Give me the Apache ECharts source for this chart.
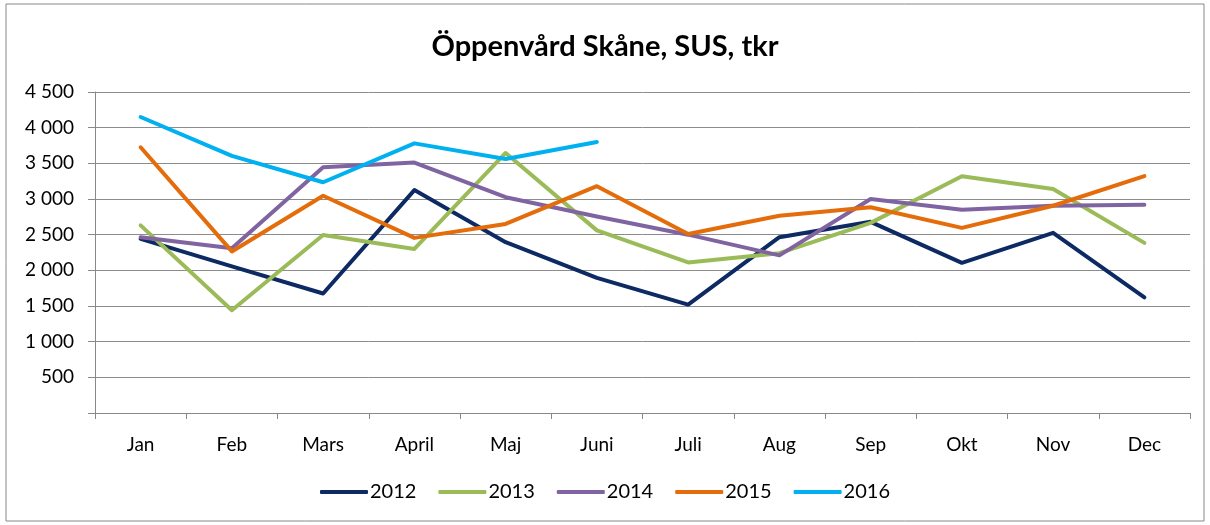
<!DOCTYPE html>
<html>
<head>
<meta charset="utf-8">
<script src="https://cdn.jsdelivr.net/npm/echarts@6/dist/echarts.min.js"></script>
<style>
  html, body { margin: 0; padding: 0; background: #fff; }
  #main { width: 1210px; height: 525px; }
</style>
</head>
<body>
<div id="main"></div>
<script>
// Öppenvård Skåne, SUS, tkr

var months = ["Jan", "Feb", "Mars", "April", "Maj", "Juni", "Juli", "Aug", "Sep", "Okt", "Nov", "Dec"];

var y2012 = [2440, 2055, 1675, 3125, 2395, 1895, 1520, 2465, 2680, 2105, 2525, 1620];
var y2013 = [2630, 1440, 2495, 2300, 3645, 2560, 2110, 2240, 2665, 3320, 3140, 2385];
var y2014 = [2465, 2310, 3445, 3510, 3025, 2755, 2500, 2210, 3000, 2850, 2905, 2920];
var y2015 = [3725, 2265, 3045, 2455, 2650, 3180, 2510, 2765, 2885, 2595, 2905, 3320];
var y2016 = [4150, 3605, 3235, 3780, 3560, 3800];

var seriesNames = ["2012", "2013", "2014", "2015", "2016"];
var seriesColors = ["#0D2A63", "#9BBB59", "#8064A2", "#E46C0A", "#00B0F0"];

var chartDom = document.getElementById("main");
var myChart = echarts.init(chartDom);

var font = "Lato, 'Open Sans', sans-serif";

function mkSeries(name, data, color) {
  return {
    name: name,
    type: "line",
    data: data,
    symbol: "none",
    smooth: false,
    lineStyle: { width: 4, color: color, cap: "round", join: "round" },
    itemStyle: { color: color },
  };
}

var allData = [y2012, y2013, y2014, y2015, y2016];

var option = {
  animation: false,
  textStyle: { fontFamily: font },
  title: {
    text: "Öppenvård Skåne, SUS, tkr",
    left: "center",
    top: 27,
    textStyle: { fontFamily: font, fontSize: 29, fontWeight: "bold", color: "#000" },
  },
  graphic: [
    {
      type: "rect",
      shape: { x: 6, y: 4, width: 1198, height: 517 },
      style: { fill: "none", stroke: "#888", lineWidth: 1 },
      silent: true,
    },
  ],
  legend: {
    bottom: 18,
    left: "center",
    itemWidth: 48,
    itemHeight: 4,
    itemGap: 22,
    icon: "roundRect",
    textStyle: { fontFamily: font, fontSize: 20, color: "#000", padding: [0, 0, 0, -3] },
    data: seriesNames,
  },
  grid: { left: 95, right: 20, top: 92, bottom: 112, containLabel: false },
  xAxis: {
    type: "category",
    data: months,
    boundaryGap: true,
    axisLine: { lineStyle: { color: "#888", width: 1 } },
    axisTick: { show: true, length: 6, lineStyle: { color: "#888" }, alignWithLabel: false },
    axisLabel: { color: "#000", fontSize: 19, margin: 22, fontFamily: font },
  },
  yAxis: {
    type: "value",
    min: 0,
    max: 4500,
    interval: 500,
    axisLine: { show: true, lineStyle: { color: "#888", width: 1 } },
    axisTick: { show: true, length: 7, lineStyle: { color: "#888" } },
    splitLine: { lineStyle: { color: "#8c8c8c", width: 1 } },
    axisLabel: {
      color: "#000",
      fontSize: 19,
      margin: 21,
      fontFamily: font,
      formatter: function (v) {
        if (v === 0) return "";
        var s = String(v);
        if (s.length > 3) s = s.slice(0, s.length - 3) + " " + s.slice(-3);
        return s;
      },
    },
  },
  series: seriesNames.map(function (n, i) {
    return mkSeries(n, allData[i], seriesColors[i]);
  }),
};

option && myChart.setOption(option);
</script>
</body>
</html>
